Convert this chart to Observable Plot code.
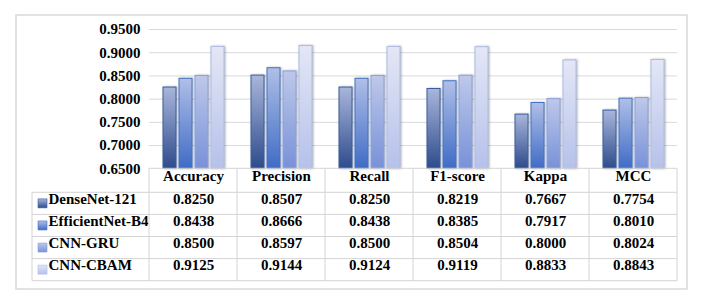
<!DOCTYPE html>
<html>
<head>
<meta charset="utf-8">
<script src="https://cdn.jsdelivr.net/npm/d3@7"></script>
<script src="https://cdn.jsdelivr.net/npm/@observablehq/plot@0.6"></script>
<style>
  html, body { margin: 0; padding: 0; background: #fff; }
  #chart { width: 701px; height: 299px; }
</style>
</head>
<body>
<div id="chart"></div>
<script>
const categories = ["Accuracy", "Precision", "Recall", "F1-score", "Kappa", "MCC"];
const series = ["DenseNet-121", "EfficientNet-B4", "CNN-GRU", "CNN-CBAM"];
const denseNet = [0.8250, 0.8507, 0.8250, 0.8219, 0.7667, 0.7754];
const efficientNet = [0.8438, 0.8666, 0.8438, 0.8385, 0.7917, 0.8010];
const cnnGru = [0.8500, 0.8597, 0.8500, 0.8504, 0.8000, 0.8024];
const cnnCbam = [0.9125, 0.9144, 0.9124, 0.9119, 0.8833, 0.8843];
const yTicks = [0.65, 0.70, 0.75, 0.80, 0.85, 0.90, 0.95];

const gradTop = ["#a9b6dc", "#b0bfe7", "#bdc8ea", "#e3e7f6"];
const gradBottom = ["#2d4b8c", "#3f6cc6", "#7891d8", "#b6c1ea"];
const strokes = ["#3b5ca2", "#4472c4", "#8c9fdd", "#adbbe8"];

const seriesValues = [denseNet, efficientNet, cnnGru, cnnCbam];
const rows = series.flatMap((s, i) => categories.map((c, j) => ({metric: c, series: s, si: i, value: seriesValues[i][j]})));

const W = 701, H = 299;
const mLeft = 148, mRight = 23, mTop = 29, mBottom = 130.7;
const rowH = 22.1, headH = 24;
const fmt = d3.format(".4f");
const font = "'Liberation Serif', 'Times New Roman', serif";

const marks = [
  Plot.gridY(yTicks.slice(1), {stroke: "#d9d9d9", strokeOpacity: 1, strokeWidth: 1}),
  Plot.axisY(yTicks, {tickSize: 0, tickPadding: 9, tickFormat: fmt, label: null, fontSize: 15, fontWeight: "bold", fill: "#000"})
];

series.forEach((s, i) => {
  const data = rows.filter(d => d.si === i);
  marks.push(Plot.barY(data, {
    fx: "metric", x: "series", y1: () => yTicks[0], y2: "value",
    fill: `url(#grad${i})`, stroke: strokes[i], strokeWidth: 1,
    imageFilter: "drop-shadow(1.5px 0.5px 1px rgba(0,0,0,0.28))"
  }));
  marks.push(Plot.text(data, {
    fx: "metric", text: d => fmt(d.value), frameAnchor: "bottom",
    dy: headH + rowH / 2 + rowH * i, fontSize: 15, fontWeight: "bold", fill: "#000"
  }));
  marks.push(Plot.text([s], {
    fx: () => categories[0], text: d => d, frameAnchor: "bottom-left", textAnchor: "start",
    dx: -101, dy: headH + rowH / 2 + rowH * i, fontSize: 15, fontWeight: "bold", fill: "#000"
  }));
  marks.push(Plot.dot([s], {
    fx: () => categories[0], frameAnchor: "bottom-left", symbol: "square", r: 9 / Math.sqrt(Math.PI),
    dx: -107, dy: headH + rowH / 2 + rowH * i - 0.5,
    fill: `url(#grad${i})`, stroke: strokes[i], strokeWidth: 0.6
  }));
});

marks.push(Plot.text(categories, {
  fx: d => d, text: d => d, frameAnchor: "bottom", dy: headH / 2, fontSize: 15, fontWeight: "bold", fill: "#000"
}));

const chart = Plot.plot({
  width: W, height: H,
  marginLeft: mLeft, marginRight: mRight, marginTop: mTop, marginBottom: mBottom,
  style: {fontFamily: font, fontSize: "15px", fontWeight: "bold", background: "#fff", overflow: "visible"},
  y: {domain: [yTicks[0], yTicks[yTicks.length - 1]]},
  fx: {domain: categories, padding: 0, axis: null},
  x: {domain: series, paddingInner: 0.2, paddingOuter: 0.83, axis: null},
  marks
});

document.getElementById("chart").appendChild(chart);

const svgSel = d3.select(chart);
const defs = svgSel.insert("defs", ":first-child");
series.forEach((s, i) => {
  const g = defs.append("linearGradient").attr("id", `grad${i}`).attr("x1", 0).attr("y1", 0).attr("x2", 0).attr("y2", 1);
  g.append("stop").attr("offset", "0%").attr("stop-color", gradTop[i]);
  g.append("stop").attr("offset", "100%").attr("stop-color", gradBottom[i]);
});

const fxS = chart.scale("fx");
const yS = chart.scale("y");
const colX = categories.map(c => fxS.apply(c));
const tableRight = colX[colX.length - 1] + fxS.bandwidth;
colX.push(tableRight);
const tableTop = yS.apply(yTicks[0]);
const rowTop = tableTop + headH;
const tableBottom = rowTop + rowH * series.length;
const tableLeft = colX[0] - 117;
const lines = svgSel.append("g").attr("stroke", "#d4d4d4").attr("stroke-width", 1).attr("fill", "none");
lines.append("line").attr("x1", colX[0]).attr("x2", tableRight).attr("y1", tableTop).attr("y2", tableTop);
for (let i = 0; i <= series.length; i++) {
  const yy = rowTop + rowH * i;
  lines.append("line").attr("x1", tableLeft).attr("x2", tableRight).attr("y1", yy).attr("y2", yy);
}
colX.forEach(xx => lines.append("line").attr("x1", xx).attr("x2", xx).attr("y1", tableTop).attr("y2", tableBottom));
lines.append("line").attr("x1", tableLeft).attr("x2", tableLeft).attr("y1", rowTop).attr("y2", tableBottom);
svgSel.insert("rect", ":first-child")
  .attr("x", 16).attr("y", 15).attr("width", 671).attr("height", 274)
  .attr("fill", "#fff").attr("stroke", "#d9d9d9").attr("stroke-width", 1.5);
</script>
</body>
</html>
